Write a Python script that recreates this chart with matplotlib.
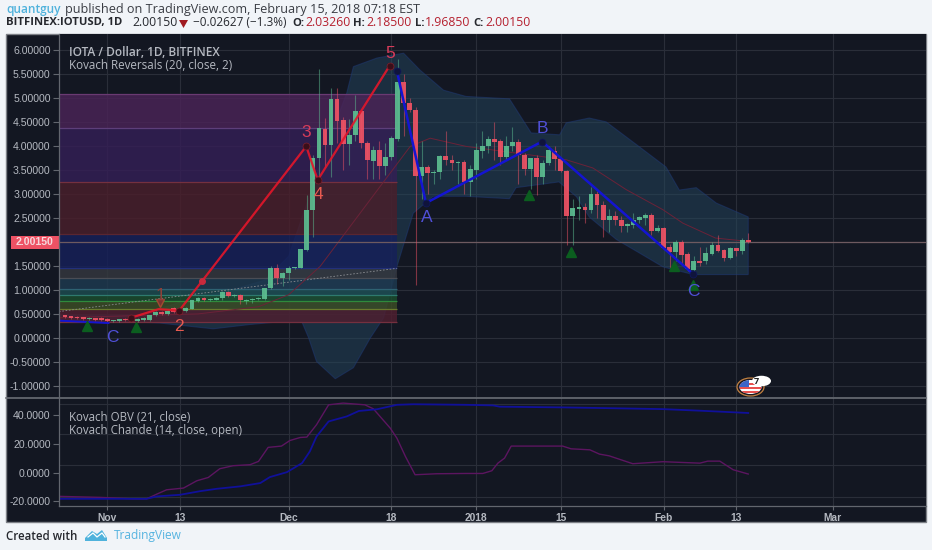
"""IOTA / Dollar daily chart with Kovach indicators, TradingView snapshot style."""
import matplotlib
matplotlib.use("Agg")
import numpy as np
import matplotlib.pyplot as plt
from matplotlib.patches import Ellipse, Polygon, Rectangle

W, H = 932, 550
PAGE = "#f1f4f8"
PANE = "#131722"
GRID = "#2a2e39"
EDGE = "#62666e"
TXT = "#b5b9c1"
UP, DOWN = "#5cbd90", "#ee5264"
FONT = "Open Sans"

# days are counted from 1 Nov 2017
first_day = -7
opens = [0.47, 0.45, 0.44, 0.43, 0.39, 0.41, 0.42, 0.40, 0.36, 0.35, 0.40, 0.37, 0.35, 0.37, 0.38, 0.47, 0.54, 0.50, 0.62, 0.60,
         0.57, 0.61, 0.76, 0.83, 0.79, 0.80, 0.83, 0.96, 0.87, 0.89, 0.76, 0.78, 0.81, 0.82, 1.04, 1.46, 1.25, 1.35, 1.46, 1.46,
         1.84, 2.66, 3.74, 4.35, 4.01, 4.97, 4.53, 4.03, 4.23, 4.73, 4.05, 3.68, 3.92, 3.59, 3.76, 4.15, 5.33, 4.89, 4.75, 3.38,
         3.56, 3.43, 3.46, 3.78, 3.71, 3.64, 3.66, 3.25, 3.50, 3.90, 3.99, 4.14, 4.10, 3.76, 3.99, 4.09, 3.80, 3.52, 3.74, 3.35,
         3.65, 3.90, 3.72, 3.48, 2.55, 2.69, 2.72, 2.66, 3.00, 2.77, 2.45, 2.53, 2.46, 2.34, 2.36, 2.45, 2.50, 2.57, 2.22, 2.30,
         1.89, 1.80, 2.00, 1.75, 1.42, 1.60, 1.60, 1.75, 1.94, 1.84, 1.66, 1.87, 1.82, 2.0326]
closes = [0.43, 0.42, 0.41, 0.39, 0.42, 0.38, 0.38, 0.35, 0.37, 0.39, 0.37, 0.43, 0.40, 0.42, 0.47, 0.55, 0.49, 0.57, 0.54, 0.55,
          0.62, 0.78, 0.83, 0.78, 0.82, 0.83, 0.96, 0.87, 0.90, 0.78, 0.80, 0.82, 0.83, 1.04, 1.46, 1.25, 1.35, 1.46, 1.46, 1.85,
          2.67, 3.74, 4.37, 4.01, 4.97, 4.51, 4.04, 4.23, 4.73, 4.05, 3.71, 3.92, 3.59, 3.76, 4.16, 5.33, 4.89, 4.75, 3.38, 3.56,
          3.43, 3.46, 3.78, 3.71, 3.64, 3.66, 3.25, 3.52, 3.92, 4.00, 4.14, 4.09, 3.76, 3.99, 4.09, 3.81, 3.52, 3.74, 3.35, 3.65,
          3.92, 3.72, 3.48, 2.55, 2.70, 2.73, 2.66, 3.00, 2.76, 2.45, 2.53, 2.45, 2.34, 2.38, 2.45, 2.52, 2.57, 2.22, 2.30, 1.87,
          1.80, 2.00, 1.73, 1.44, 1.60, 1.57, 1.77, 1.94, 1.82, 1.66, 1.87, 1.82, 2.05, 2.0015]
highs = [0.48, 0.46, 0.45, 0.44, 0.43, 0.42, 0.43, 0.41, 0.38, 0.40, 0.41, 0.44, 0.41, 0.43, 0.48, 0.57, 0.56, 0.58, 0.64, 0.62,
         0.64, 0.80, 0.86, 0.85, 0.83, 0.85, 0.98, 0.98, 0.92, 0.91, 0.81, 0.84, 0.85, 1.05, 1.50, 1.55, 1.38, 1.50, 1.48, 1.86,
         2.97, 3.80, 5.60, 4.58, 5.20, 5.20, 4.60, 4.55, 5.05, 4.75, 4.10, 4.00, 4.10, 4.05, 4.20, 5.80, 5.50, 5.00, 4.80, 4.10,
         3.60, 3.50, 3.80, 4.30, 3.80, 3.68, 3.70, 3.60, 4.05, 4.30, 4.20, 4.50, 4.15, 4.20, 4.40, 4.15, 3.85, 3.75, 3.80, 3.70,
         4.00, 4.00, 3.75, 3.50, 2.90, 2.95, 2.80, 3.15, 3.05, 2.85, 2.68, 2.65, 2.55, 2.40, 2.60, 2.55, 2.60, 2.60, 2.35, 2.32,
         1.95, 2.05, 2.05, 1.80, 1.70, 1.90, 1.90, 2.00, 2.15, 1.85, 1.90, 1.87, 2.08, 2.185]
lows = [0.41, 0.40, 0.39, 0.37, 0.37, 0.36, 0.36, 0.33, 0.34, 0.34, 0.35, 0.35, 0.33, 0.35, 0.36, 0.45, 0.47, 0.48, 0.52, 0.52,
        0.55, 0.60, 0.74, 0.76, 0.77, 0.78, 0.80, 0.85, 0.85, 0.70, 0.70, 0.72, 0.79, 0.80, 1.02, 1.12, 1.08, 1.20, 1.43, 1.45,
        1.82, 2.10, 3.30, 3.56, 3.36, 4.05, 3.50, 3.60, 4.10, 3.95, 3.30, 3.30, 3.30, 3.40, 3.70, 4.10, 4.20, 4.70, 1.11, 2.90,
        3.00, 3.20, 3.30, 3.60, 3.50, 3.20, 3.00, 2.95, 3.30, 3.75, 3.85, 3.70, 3.60, 3.70, 3.90, 3.20, 3.40, 3.10, 2.97, 3.20,
        3.60, 3.50, 3.45, 1.94, 1.93, 2.45, 2.40, 2.60, 2.50, 2.10, 2.20, 2.35, 2.20, 2.20, 2.30, 2.40, 2.35, 2.15, 2.20, 1.85,
        1.45, 1.60, 1.55, 1.40, 1.30, 1.50, 1.55, 1.72, 1.80, 1.60, 1.65, 1.70, 1.75, 1.9685]

# Bollinger style envelope and its mid line
upper_days = [-8, 5, 13, 20, 26, 30, 33, 36, 39.6, 40.7, 44.6, 49, 51.7, 55.6, 59.3, 66.5, 70.1, 74.8, 75.9, 79.7, 82.5, 88, 92.4, 94.6, 97.4, 100.7, 106]
upper_vals = [0.47, 0.47, 0.78, 0.98, 1.2, 1.7, 2.8, 3.9, 5.1, 5.65, 5.83, 5.93, 5.58, 5.16, 5.03, 4.98, 4.27, 4.23, 4.48, 4.58, 4.5, 3.98, 3.56, 3.08, 3.13, 2.81, 2.52]
lower_days = [-8, 5, 8.7, 17.5, 23.6, 28, 32.2, 33.3, 34.6, 37.7, 40.7, 43.5, 45.7, 47.9, 50.6, 53.9, 59.3, 66.5, 67.6, 74.7, 77.6, 79.7, 84.2, 88, 91.9, 96.9, 106]
lower_vals = [0.36, 0.33, 0.31, 0.19, 0.28, 0.33, 0.33, 0.0, -0.49, -0.85, -0.62, 0.0, 0.42, 1.49, 2.6, 2.95, 2.95, 2.9, 3.13, 3.25, 2.94, 2.52, 2.05, 1.77, 1.48, 1.32, 1.32]
mid_days = [-8, 15, 25, 30, 35.2, 50.1, 53.4, 59.3, 75.9, 80.3, 85.8, 91.9, 95.2, 100.6, 106]
mid_vals = [0.42, 0.50, 0.65, 0.90, 1.49, 3.99, 4.16, 3.99, 3.71, 3.54, 3.09, 2.67, 2.39, 2.08, 2.01]

# fib zones: price edges from the top, and one fill colour per zone
fib_edges = [5.08, 4.38, 3.25, 2.17, 1.46, 1.24, 1.02, 0.89, 0.76, 0.60, 0.34]
fib_colors = ["#4b2457", "#341f56", "#4a1f2b", "#16205a", "#35383f", "#1e3a50", "#1c4c50", "#1a4d2e", "#3c4d25", "#4f1f30"]
fib_lines = ["#6a3a72", "#5d3f7a", "#74303f", "#5a2630", "#22307a", "#4a4d55", "#2e6272", "#2e7a6e", "#2f8a3c", "#6a7a2c", "#74303f"]
fib_start, fib_end = -8, 47.9

wave_days = [3.9, 8.5, 11.9, 32.9, 34.8, 46.7]
wave_vals = [0.42, 0.60, 0.57, 3.99, 3.29, 5.67]
abc_days = [47.9, 52.7, 71.9, 96.9]
abc_vals = [5.56, 2.81, 4.09, 1.33]
prior_days = [-7.9, 0.2]
prior_vals = [0.36, 0.31]

up_labels = ["1", "2", "3", "4", "5"]
up_label_days = [8.8, 11.9, 32.9, 34.9, 46.8]
up_label_vals = [0.89, 0.23, 4.27, 2.98, 5.93]
abc_labels = ["C", "A", "B", "C"]
abc_label_days = [0.9, 52.8, 71.9, 96.9]
abc_label_vals = [0.0, 2.51, 4.37, 0.96]

signal_days = [-3.3, 4.7, 69.8, 76.7, 93.8, 96.9]
signal_vals = [0.24, 0.22, 2.98, 1.79, 1.49, 1.10]

chande_days = [-7.8, -1.2, 4.3, 6.5, 8.2, 9.8, 12.6, 14.8, 16.7, 18.6, 20.8, 23.6, 25, 26.6, 28.8, 30.2, 31.9, 33, 34.6, 36.6, 39, 42.6, 44, 46.8, 47.9, 49.3, 50.9, 54.5, 59.3,
               62.1, 63.6, 64.6, 65.7, 66.8, 75.3, 76.7, 79.8, 81.4, 83, 86.9, 91.9, 98, 99.3, 101.3, 103.5, 106]
chande_vals = [-16.6, -17.3, -18.3, -18.3, -15, -12, -10.8, -5.7, -3.4, 2.7, 4.8, 5.5, 7.8, 17.6, 18.5, 22.4, 24.5, 24.8, 33.4, 47.3, 48.5, 47.3, 44.5, 31, 24, 11.3, -1.5, -0.8, -0.6,
               -0.6, 1.3, 6.6, 10.1, 18.5, 18.5, 16.6, 15.9, 12.9, 11.7, 6.2, 7.6, 6.6, 8, 8, 2, -1]
obv_days = [-7.8, 0, 6.5, 8.2, 12, 15.3, 18.1, 22, 25.3, 26.9, 29.7, 32.2, 33.5, 34.6, 36.6, 39.6, 41.6, 44.6, 47.9, 50.6, 59.3, 63.8, 64.9, 75.3, 82.5, 91.9, 98, 106]
obv_vals = [-18.3, -18.3, -18.3, -16.6, -15.5, -13, -11.3, -9.6, -7.3, -3.1, 0.3, 6.6, 14.8, 25.2, 35.7, 39.2, 43, 44.2, 47.3, 47.7, 47.3, 46.9, 46, 45.5, 45, 44.3, 43.2, 41.6]

price_ticks = [6, 5.5, 5, 4.5, 4, 3.5, 3, 2.5, 1.5, 1, 0.5, 0, -0.5, -1]
price_grid = [6, 5.5, 5, 4.5, 4, 3.5, 3, 2.5, 2, 1.5, 1, 0.5, 0, -0.5, -1]
lower_ticks = [40, 20, 0, -20]
lower_grid = [48, 27, 5, -17]
date_ticks = [0, 12, 30, 47, 61, 75, 92, 104, 120]
date_labels = ["Nov", "13", "Dec", "18", "2018", "15", "Feb", "13", "Mar"]
last_price = 2.0015


def pane(y_top, y_bottom):
    """Axes rect from pixel edges; the panes start at the price scale, x=59."""
    return [59 / W, 1 - y_bottom / H, (926 - 59) / W, (y_bottom - y_top) / H]


def style(ax):
    ax.set_facecolor(PANE)
    for s in ax.spines.values():
        s.set_visible(False)
    ax.set_xlim(-7.99, 135.4)
    ax.set_xticks(date_ticks)
    ax.grid(axis="x", color=GRID, lw=0.8)
    ax.set_axisbelow(True)
    ax.tick_params(axis="y", length=4, width=0.8, color=EDGE, labelcolor=TXT, labelsize=7.6, pad=2)
    for lab in ax.get_yticklabels():
        lab.set_family("Liberation Sans")


def draw_candles(ax):
    for i, (o, h, l, c) in enumerate(zip(opens, highs, lows, closes)):
        d = first_day + i
        col = UP if c >= o else DOWN
        ax.vlines(d, l, h, color=col, lw=0.8, alpha=0.5, zorder=4)
        ax.add_patch(Rectangle((d - 0.4, min(o, c)), 0.8, max(abs(c - o), 0.02),
                               fc=col, ec="none", alpha=0.92, zorder=5))


def main():
    fig = plt.figure(figsize=(W / 100, H / 100), dpi=100, facecolor=PAGE)
    plt.rcParams["font.family"] = [FONT, "DejaVu Sans"]

    back = fig.add_axes([0, 0, 1, 1], zorder=0)
    back.set_xlim(0, W); back.set_ylim(H, 0); back.axis("off")
    back.add_patch(Rectangle((6, 34), 920, 488, fc=PANE, ec="#7d8087", lw=1))

    ax = fig.add_axes(pane(34, 397), zorder=1)
    ax.set_ylim(-1.23, 6.33)
    ax.set_yticks(price_ticks)
    ax.set_yticklabels([f"{v:.5f}" for v in price_ticks])
    style(ax)
    ax.tick_params(axis="x", length=0, labelbottom=False)
    for v in price_grid:
        ax.axhline(v, color=GRID, lw=0.8, zorder=0.5)

    # envelope goes under the fib zones, it only shows through faintly there
    ax.fill(np.r_[upper_days, lower_days[::-1]], np.r_[upper_vals, lower_vals[::-1]],
            fc="#24465e", ec="#1f3a78", lw=0.8, alpha=0.5, zorder=0.8)

    # fib zones
    for k, col in enumerate(fib_colors):
        ax.add_patch(Rectangle((fib_start, fib_edges[k + 1]), fib_end - fib_start,
                               fib_edges[k] - fib_edges[k + 1], fc=col, ec="none",
                               alpha=0.82, zorder=1))
    for v, col in zip(fib_edges, fib_lines):
        ax.hlines(v, fib_start, fib_end, color=col, lw=0.9, zorder=1.2)
    ax.plot([fib_start, fib_end], [0.55, 1.45], color="#8a8d92", lw=0.6, ls=(0, (2, 2)), zorder=1.3)

    ax.plot(mid_days, mid_vals, color="#6b2238", lw=0.7, zorder=3)
    ax.axhline(last_price, color="#6e5a60", lw=0.9, zorder=3)

    draw_candles(ax)

    # wave counts
    ax.plot(wave_days, wave_vals, color="#e4162a", lw=1.6, alpha=0.9, zorder=6)
    ax.plot(abc_days, abc_vals, color="#1414d2", lw=1.8, zorder=6)
    ax.plot(prior_days, prior_vals, color="#1414d2", lw=1.4, zorder=6)
    ax.plot(wave_days[0:1] + wave_days[2:], wave_vals[0:1] + wave_vals[2:], ls="none", marker="o", ms=5,
            mfc="#3a0f1a", mec="#80202c", mew=0.5, zorder=7)
    ax.plot(abc_days, abc_vals, ls="none", marker="o", ms=5, mfc="#10143c", mec="#101860", mew=0.5, zorder=7)
    ax.plot([15.6], [1.18], ls="none", marker="o", ms=4, color="#c82a3c", zorder=7)
    ax.plot([8.7], [0.72], ls="none", marker="v", ms=6, mfc="#7a3030", mec="#a04a30", zorder=7)
    ax.plot(signal_days, signal_vals, ls="none", marker="^", ms=6.5, color="#0b5e1f", zorder=7)

    for s, d, v in zip(up_labels, up_label_days, up_label_vals):
        col = "#e85a50" if s in "24" else "#d83c5a"
        if s == "1":
            col = "#8f4038"
        ax.text(d, v, s, color=col, fontsize=12.5, ha="center", va="center", family="Liberation Sans", zorder=8)
    for s, d, v in zip(abc_labels, abc_label_days, abc_label_vals):
        ax.text(d, v, s, color="#5050d8", fontsize=12.5, ha="center", va="center", family="Liberation Sans", zorder=8)

    ax.text(0.0115, 0.949, "IOTA / Dollar, 1D, BITFINEX", transform=ax.transAxes, color=TXT,
            fontsize=8.55, fontweight="semibold", va="center", zorder=9)
    ax.text(0.0115, 0.9135, "Kovach Reversals (20, close, 2)", transform=ax.transAxes, color=TXT,
            fontsize=8.4, va="center", zorder=9)

    # lower pane
    low = fig.add_axes(pane(398, 506), zorder=1)
    low.set_ylim((472.6 - 506) / 1.433, (472.6 - 398) / 1.433)
    low.set_yticks(lower_ticks)
    low.set_yticklabels([f"{v:.4f}" for v in lower_ticks])
    style(low)
    low.set_xticklabels(date_labels, family="Liberation Sans", fontweight="bold")
    low.tick_params(axis="x", length=3, width=0.8, color=EDGE, labelcolor=TXT, labelsize=7.4, pad=2)
    for v in lower_grid:
        low.axhline(v, color=GRID, lw=0.8, zorder=0.5)
    low.plot(chande_days, chande_vals, color="#5c1560", lw=1.0, zorder=3)
    low.plot(obv_days, obv_vals, color="#10109a", lw=1.3, zorder=4)
    low.text(0.0115, 0.82, "Kovach OBV (21, close)", transform=low.transAxes, color=TXT, fontsize=8.3, va="center")
    low.text(0.0115, 0.70, "Kovach Chande (14, close, open)", transform=low.transAxes, color=TXT, fontsize=8.3, va="center")

    # chrome drawn on top: separators, price badge, event flag, header, footer
    top = fig.add_axes([0, 0, 1, 1], zorder=5)
    top.set_xlim(0, W); top.set_ylim(H, 0); top.axis("off"); top.patch.set_alpha(0)
    top.plot([6, 926], [397.5, 397.5], color="#6a6e76", lw=1.2)
    top.plot([59, 926], [506, 506], color=EDGE, lw=0.9)
    top.plot([59, 59], [34, 506], color=EDGE, lw=0.9)

    top.add_patch(Rectangle((11, 236), 48, 12.5, fc="#ee5264", ec="none"))
    top.text(35, 242.4, "2.00150", color="#f6d8dc", fontsize=7.6, fontweight="bold",
             ha="center", va="center", family="Liberation Sans")

    ring = Ellipse((750.5, 387), 27, 18, fc="#1c1820", ec="#c08040", lw=0.9)
    top.add_patch(ring)
    flag = Ellipse((750.5, 387), 22, 14, fc="white", ec="none")
    top.add_patch(flag)
    for y in (383, 387, 391):
        r = Rectangle((738, y), 26, 2, fc="#e8504e", ec="none")
        top.add_patch(r); r.set_clip_path(flag)
    canton = Rectangle((738, 379), 11, 7.5, fc="#3c66c8", ec="none")
    top.add_patch(canton); canton.set_clip_path(flag)
    top.add_patch(Ellipse((761.5, 381), 19, 10.5, fc="white", ec="none"))
    top.text(756, 381, "7", color="#222", fontsize=6.5, fontweight="bold", ha="center", va="center")

    # header
    top.text(6, 9, "quantguy", color="#4fb2dc", fontsize=8.6, fontweight="semibold", va="center")
    top.text(65, 9, "published on TradingView.com, February 15, 2018 07:18 EST", color="#3a3d44", fontsize=9.1, va="center")
    dark, red = "#26282e", "#b5202f"
    header = [(6, "BITFINEX:IOTUSD, 1D", dark, "bold", 8.1), (132, "2.00150", dark, "normal", 8.8),
              (193, "\u22120.02627 (\u22121.3%)", dark, "normal", 8.5), (292, "O:", dark, "bold", 8.1),
              (305, "2.03260", red, "normal", 8.8), (353, "H:", dark, "bold", 8.1), (366, "2.18500", red, "normal", 8.8),
              (415, "L:", dark, "bold", 8.1), (425, "1.96850", red, "normal", 8.8), (473, "C:", dark, "bold", 8.1),
              (485, "2.00150", red, "normal", 8.8)]
    for x, s, col, wt, size in header:
        top.text(x, 23, s, color=col, fontsize=size, fontweight=wt, va="center")
    top.add_patch(Polygon([(179, 20), (188, 20), (183.5, 28)], fc="#a01a20", ec="none"))

    # footer
    top.text(6, 536, "Created with", color="#26282e", fontsize=8.3, fontweight="semibold", va="center")
    top.add_patch(Polygon([(85, 538), (92, 531), (97, 534), (102, 530), (107, 538), (107, 541), (85, 541)],
                          fc="#4fb2dc", ec="none"))
    top.plot([88, 93, 97, 102, 105], [537, 533, 537, 533, 537], color="white", lw=0.9)
    top.text(113.5, 536, "TradingView", color="#56b4e0", fontsize=8.6, va="center")

    fig.savefig("out.png", dpi=100, facecolor=PAGE)


if __name__ == "__main__":
    main()
